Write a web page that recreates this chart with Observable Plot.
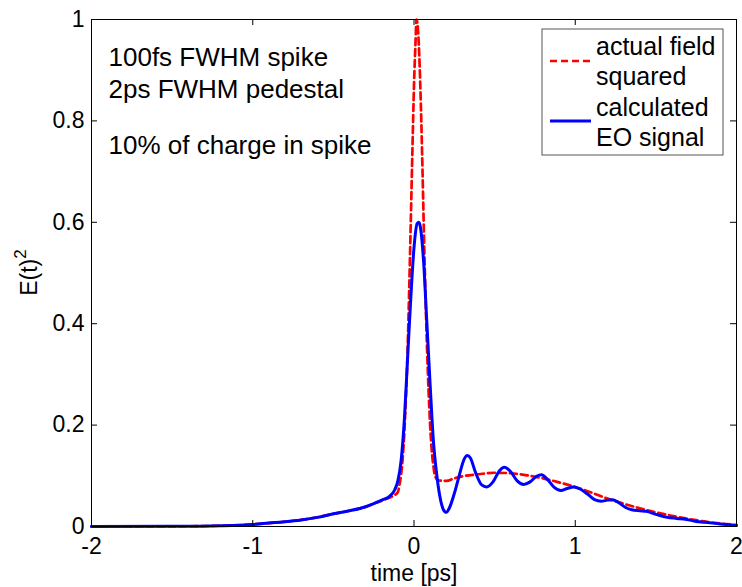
<!DOCTYPE html>
<html>
<head>
<meta charset="utf-8">
<script src="https://cdn.jsdelivr.net/npm/d3@7"></script>
<script src="https://cdn.jsdelivr.net/npm/@observablehq/plot@0.6"></script>
<style>
  html, body { margin: 0; padding: 0; background: white; }
</style>
</head>
<body>
<div id="chart"></div>
<script>
// ---- data ----
const redTime = [-2, -1.5, -1.2, -1.0, -0.9, -0.8, -0.7, -0.6, -0.5, -0.4, -0.3, -0.25, -0.2, -0.15, -0.12, -0.10, -0.09, -0.08, -0.07, -0.06, -0.05, -0.04, -0.03, -0.02, -0.01, 0.00, 0.01, 0.015, 0.02, 0.03, 0.04, 0.05, 0.06, 0.07, 0.08, 0.09, 0.10, 0.11, 0.12, 0.13, 0.15, 0.2, 0.25, 0.3, 0.4, 0.5, 0.6, 0.7, 0.8, 0.9, 1.0, 1.1, 1.2, 1.3, 1.4, 1.5, 1.6, 1.7, 1.8, 1.9, 2.0];
const redValue = [0, 0.0003, 0.0015, 0.004, 0.0068, 0.0095, 0.013, 0.018, 0.025, 0.031, 0.039, 0.045, 0.051, 0.057, 0.062, 0.068, 0.082, 0.102, 0.135, 0.185, 0.255, 0.345, 0.465, 0.60, 0.74, 0.87, 0.96, 1.0, 0.995, 0.95, 0.86, 0.74, 0.60, 0.47, 0.36, 0.27, 0.20, 0.15, 0.12, 0.10, 0.091, 0.090, 0.095, 0.099, 0.103, 0.106, 0.105, 0.101, 0.095, 0.087, 0.078, 0.067, 0.055, 0.045, 0.036, 0.028, 0.021, 0.015, 0.010, 0.006, 0.003];

const blueTime = [-2, -1.5, -1.2, -1.0, -0.9, -0.8, -0.7, -0.6, -0.5, -0.4, -0.3, -0.25, -0.2, -0.15, -0.12, -0.10, -0.08, -0.06, -0.04, -0.02, 0.0, 0.02, 0.03, 0.04, 0.06, 0.08, 0.10, 0.12, 0.14, 0.16, 0.18, 0.20, 0.22, 0.25, 0.28, 0.31, 0.33, 0.35, 0.38, 0.42, 0.45, 0.49, 0.53, 0.56, 0.60, 0.64, 0.68, 0.72, 0.76, 0.79, 0.83, 0.87, 0.91, 0.95, 0.99, 1.03, 1.08, 1.12, 1.16, 1.20, 1.23, 1.27, 1.31, 1.35, 1.40, 1.44, 1.50, 1.57, 1.63, 1.69, 1.75, 1.80, 1.90, 2.0];
const blueValue = [0, 0.0003, 0.0015, 0.004, 0.0068, 0.0095, 0.013, 0.018, 0.025, 0.031, 0.039, 0.045, 0.052, 0.060, 0.072, 0.090, 0.13, 0.21, 0.33, 0.45, 0.55, 0.598, 0.60, 0.59, 0.52, 0.40, 0.28, 0.17, 0.105, 0.06, 0.035, 0.028, 0.037, 0.065, 0.10, 0.132, 0.14, 0.135, 0.108, 0.082, 0.078, 0.088, 0.110, 0.117, 0.108, 0.090, 0.083, 0.088, 0.099, 0.102, 0.092, 0.077, 0.071, 0.075, 0.078, 0.074, 0.063, 0.053, 0.050, 0.052, 0.053, 0.047, 0.038, 0.033, 0.031, 0.030, 0.024, 0.018, 0.016, 0.014, 0.010, 0.0085, 0.005, 0.002];

const xTicks = [-2, -1, 0, 1, 2];
const xTickLabels = ["-2", "-1", "0", "1", "2"];
const yTicks = [0, 0.2, 0.4, 0.6, 0.8, 1];
const yTickLabels = ["0", "0.2", "0.4", "0.6", "0.8", "1"];

const xLabel = "time [ps]";
const yLabelBase = "E(t)";
const yLabelSup = "2";
const annotationLines = ["100fs FWHM spike", "2ps FWHM pedestal", "10% of charge in spike"];
const legendLabels = [["actual field", "squared"], ["calculated", "EO signal"]];
const seriesColors = ["#ff0000", "#0000ff"];

// ---- build tables ----
const red = redTime.map((t, i) => ({t, v: redValue[i]}));
const blue = blueTime.map((t, i) => ({t, v: blueValue[i]}));
const xFmt = new Map(xTicks.map((d, i) => [d, xTickLabels[i]]));
const yFmt = new Map(yTicks.map((d, i) => [d, yTickLabels[i]]));

const W = 742, H = 587, mL = 91, mR = 6, mT = 19, mB = 61;
const plotW = W - mL - mR, plotH = H - mT - mB;
const tickLen = 6;
const FONT = "'Liberation Sans', Arial, Helvetica, sans-serif";

function legendMark(index, scales, values, dims) {
  const right = dims.width - dims.marginRight;
  const bx = right - 194, by = dims.marginTop + 10, bw = 181, bh = 126;
  const g = d3.create("svg:g").attr("font-family", FONT).attr("font-size", 25).attr("text-anchor", "start");
  g.append("rect").attr("x", bx).attr("y", by).attr("width", bw).attr("height", bh)
    .attr("fill", "white").attr("stroke", "#555").attr("stroke-width", 1);
  const entryTop = [by + 26, by + 87];
  const sampleY = [by + 32, by + 92];
  legendLabels.forEach((lines, k) => {
    const ln = g.append("line").attr("x1", bx + 8).attr("x2", bx + 49)
      .attr("y1", sampleY[k]).attr("y2", sampleY[k])
      .attr("stroke", seriesColors[k]).attr("stroke-width", k === 0 ? 2.5 : 3);
    if (k === 0) ln.attr("stroke-dasharray", "7,4");
    lines.forEach((s, j) => {
      g.append("text").attr("x", bx + 54).attr("y", entryTop[k] + j * 30)
        .attr("text-anchor", "start").attr("fill", "black").text(s);
    });
  });
  return g.node();
}

function yLabelMark(index, scales, values, dims) {
  const cx = 37, cy = dims.marginTop + (dims.height - dims.marginTop - dims.marginBottom) / 2;
  const t = d3.create("svg:text")
    .attr("transform", `translate(${cx},${cy}) rotate(-90)`)
    .attr("text-anchor", "middle").attr("font-family", FONT).attr("font-size", 23).attr("fill", "black");
  t.append("tspan").text(yLabelBase);
  t.append("tspan").attr("dy", -11).attr("font-size", 17).text(yLabelSup);
  return t.node();
}

const chart = Plot.plot({
  width: W, height: H,
  marginLeft: mL, marginRight: mR, marginTop: mT, marginBottom: mB,
  style: {fontFamily: FONT, fontSize: "23px", background: "white", color: "black"},
  x: {domain: [-2, 2]},
  y: {domain: [0, 1]},
  marks: [
    Plot.line(red, {x: "t", y: "v", stroke: seriesColors[0], strokeWidth: 2.7, strokeDasharray: "7,4", curve: "monotone-x"}),
    Plot.line(blue, {x: "t", y: "v", stroke: seriesColors[1], strokeWidth: 3, curve: "monotone-x"}),
    Plot.frame({stroke: "black", strokeWidth: 1}),
    Plot.ruleX(xTicks, {x: d => d, insetTop: plotH - tickLen, stroke: "black"}),
    Plot.ruleX(xTicks, {x: d => d, insetBottom: plotH - tickLen, stroke: "black"}),
    Plot.ruleY(yTicks, {y: d => d, insetRight: plotW - tickLen, stroke: "black"}),
    Plot.ruleY(yTicks, {y: d => d, insetLeft: plotW - tickLen, stroke: "black"}),
    Plot.axisX(xTicks, {anchor: "bottom", tickSize: 0, tickPadding: 11, fontSize: 23, tickFormat: d => xFmt.get(d), label: null}),
    Plot.axisY(yTicks, {anchor: "left", tickSize: 0, tickPadding: 7, fontSize: 23, tickFormat: d => yFmt.get(d), label: null}),
    Plot.text([xLabel], {frameAnchor: "bottom", dy: 54, lineAnchor: "bottom", fontSize: 23, fill: "black"}),
    yLabelMark,
    Plot.text([annotationLines[0]], {frameAnchor: "top-left", dx: 17, dy: 46, lineAnchor: "bottom", textAnchor: "start", fontSize: 26, fill: "black"}),
    Plot.text([annotationLines[1]], {frameAnchor: "top-left", dx: 17, dy: 78, lineAnchor: "bottom", textAnchor: "start", fontSize: 26, fill: "black"}),
    Plot.text([annotationLines[2]], {frameAnchor: "top-left", dx: 17, dy: 134, lineAnchor: "bottom", textAnchor: "start", fontSize: 26, fill: "black"}),
    legendMark
  ]
});
document.getElementById("chart").appendChild(chart);
</script>
</body>
</html>
